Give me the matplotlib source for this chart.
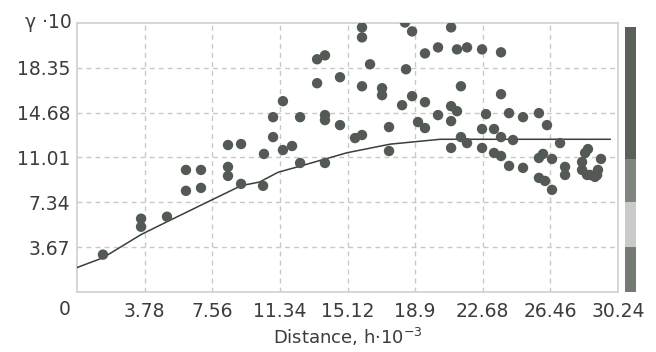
import matplotlib.pyplot as plt
from matplotlib.transforms import offset_copy

# experimental semivariogram points
dist = [1.45, 3.58, 3.58, 5.03, 6.09, 6.93, 6.09, 6.93, 8.44, 8.44,
        9.17, 8.44, 9.17, 10.45, 10.40, 10.96, 10.96, 11.51, 11.51, 12.02,
        12.47, 12.47, 13.42, 13.42, 13.86, 13.86, 13.86, 13.86, 15.93, 15.93,
        18.33, 18.73, 19.45, 20.18, 16.38, 18.39, 14.70, 15.93, 17.05, 17.05,
        18.73, 18.17, 19.45, 14.70, 17.44, 19.06, 19.45, 20.18, 15.54, 15.93,
        17.44, 20.91, 21.24, 21.80, 22.64, 23.70, 21.46, 23.70, 20.91, 21.24,
        20.91, 22.86, 24.15, 24.93, 25.82, 26.27, 22.64, 23.31, 21.46, 21.80,
        23.70, 24.37, 27.00, 20.91, 22.64, 23.31, 23.70, 24.15, 24.93, 25.82,
        26.05, 26.55, 25.82, 26.16, 26.55, 27.28, 27.28, 28.56, 28.40, 28.23,
        28.23, 28.51, 28.68, 28.95, 29.07, 29.12, 29.29]
gamma = [3.06, 6.00, 5.34, 6.16, 9.99, 9.99, 8.28, 8.52, 10.24, 9.50,
         8.85, 12.03, 12.11, 11.30, 8.69, 12.68, 14.31, 15.62, 11.62, 11.95,
         14.31, 10.56, 17.09, 19.05, 19.37, 14.48, 14.07, 10.56, 21.66, 20.84,
         22.06, 21.33, 19.53, 20.02, 18.64, 18.23, 17.58, 16.84, 16.68, 16.11,
         16.03, 15.29, 15.54, 13.66, 13.50, 13.91, 13.42, 14.48, 12.60, 12.85,
         11.54, 21.66, 19.86, 20.02, 19.86, 19.62, 16.84, 16.19, 15.21, 14.80,
         13.99, 14.56, 14.64, 14.31, 14.64, 13.66, 13.34, 13.34, 12.68, 12.19,
         12.68, 12.44, 12.19, 11.79, 11.79, 11.38, 11.13, 10.32, 10.16, 10.97,
         11.30, 10.89, 9.34, 9.09, 8.36, 10.24, 9.58, 11.70, 11.38, 10.64,
         9.99, 9.58, 9.58, 9.42, 9.58, 9.99, 10.89]

# model curve
model_x = [0, 1.45, 3.58, 5.03, 7.55, 9.17, 10.2, 11.24, 12.47, 15.1, 17.5, 20.3, 29.8]
model_y = [2.0, 2.8, 4.7, 5.75, 7.55, 8.7, 9.0, 9.8, 10.3, 11.4, 12.1, 12.5, 12.5]

xticks = [3.78, 7.56, 11.34, 15.12, 18.9, 22.68, 26.46, 30.24]
yticks = [3.67, 7.34, 11.01, 14.68, 18.35]

# side bar segments (fraction of height from bottom) and colours
bar_edges = [0.0, 0.17, 0.34, 0.50, 1.0]
bar_colors = ['#737b73', '#c9cbc9', '#7e867e', '#596159']

txt = '#3c3c3c'
fs = 13.5
fig = plt.figure(figsize=(6.56, 3.52), dpi=100)
ax = fig.add_axes([0.1174, 0.1705, 0.8247, 0.7642])

ax.set_xlim(0, 30.24)
ax.set_ylim(0, 22.02)
ax.set_xticks(xticks)
ax.set_yticks(yticks)
ax.set_xticklabels([str(v) for v in xticks])
ax.set_yticklabels([str(v) for v in yticks])
ax.tick_params(length=0, labelsize=fs, labelcolor=txt)
ax.tick_params(axis='x', pad=7)
ax.tick_params(axis='y', pad=5)
ax.grid(True, color='#c8c8c8', linestyle=(0, (3.5, 3)), linewidth=1.0)
for s in ax.spines.values():
    s.set_color('#d0d0d0')
    s.set_linewidth(1.2)

ax.plot(model_x, model_y, color='#3a3f3a', linewidth=1.1, zorder=3)
ax.scatter(dist, gamma, s=56, color='#535953', edgecolors='none', zorder=4)

# "0" corner label and the y-axis unit at the top
ax.text(0, 0, '0', transform=offset_copy(ax.transData, fig, x=-12, y=-18, units='dots'),
        ha='center', va='center', fontsize=fs, color=txt)
ax.text(0, 22.02, 'γ ·10', transform=offset_copy(ax.transData, fig, x=-5, y=0, units='dots'),
        ha='right', va='center', fontsize=fs, color=txt)
ax.set_xlabel(r'Distance, h$\cdot$10$^{-3}$', fontsize=13, color=txt, labelpad=4)

bax = fig.add_axes([0.9527, 0.1705, 0.0168, 0.7528])
for i, c in enumerate(bar_colors):
    bax.axhspan(bar_edges[i], bar_edges[i + 1], color=c, linewidth=0)
bax.set_xlim(0, 1)
bax.set_ylim(0, 1)
bax.axis('off')

fig.savefig('out.png', dpi=100)
